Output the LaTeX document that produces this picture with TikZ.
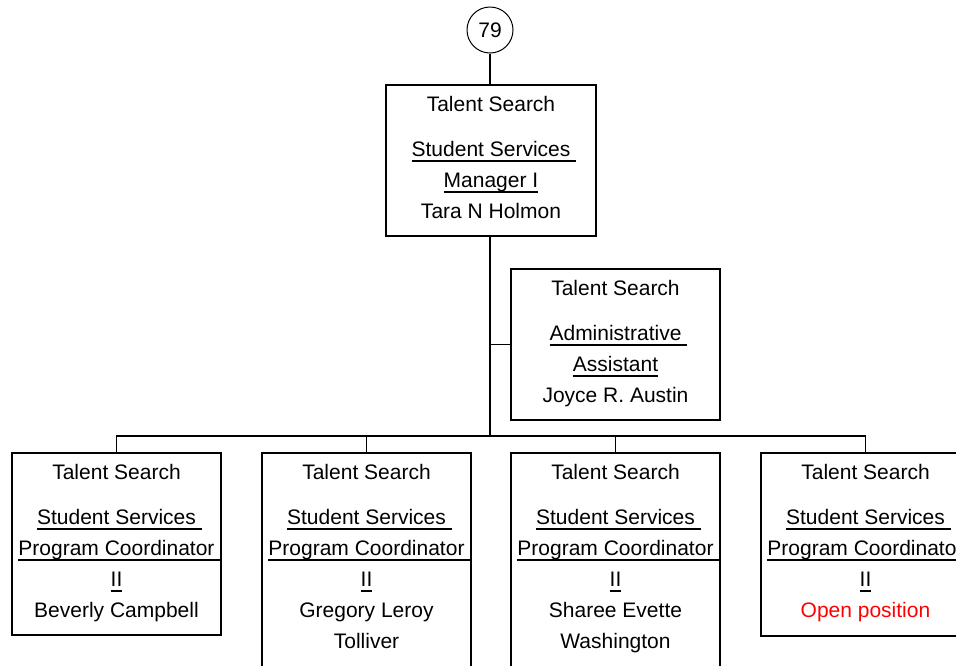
\documentclass[tikz,border=0pt]{standalone}
\usepackage{fontspec}
\setmainfont{Liberation Sans}
\newlength\ulw
\newcommand\ulx[1]{\settowidth\ulw{#1}\rlap{\rule[-5pt]{\ulw}{1.7pt}}#1}
\definecolor{openred}{RGB}{255,0,0}
\tikzset{
  box/.style={draw, line width=1.8pt, inner sep=0pt, minimum width=209pt},
  txt/.style={inner sep=0pt, align=center, anchor=north, font=\fontsize{21}{31}\selectfont},
  conn/.style={line width=1.8pt},
}
\begin{document}
\begin{tikzpicture}[x=1pt,y=-1pt]
\useasboundingbox (0,0) rectangle (956,665);
\clip (0,0) rectangle (956,665);
% circle
\node[draw, circle, line width=1pt, minimum size=46pt, inner sep=0pt, font=\fontsize{21}{25}\selectfont] (c) at (490,30) {79};
% boxes
\node[box, minimum width=210pt, minimum height=151pt] (top) at (491,160.5) {};
\node[box, minimum height=151pt] (adm) at (615.5,344.5) {};
\node[box, minimum height=182pt] (b1) at (116.5,544) {};
\node[box, minimum height=216pt] (b2) at (366.5,561) {};
\node[box, minimum height=216pt] (b3) at (615.5,561) {};
\node[box, minimum height=183pt] (b4) at (865.5,544.5) {};
% texts
\node[txt] (ttop) at ([yshift=-11pt]top.north) {\rule{0pt}{16pt}Talent Search\\[14.5pt]\ulx{Student Services\ }\\\ulx{Manager I}\\Tara N Holmon};
\node[txt] (tadm) at ([yshift=-11pt]adm.north) {\rule{0pt}{16pt}Talent Search\\[14.5pt]\ulx{Administrative\ }\\\ulx{Assistant}\\Joyce R. Austin};
\node[txt] (tb1) at ([yshift=-11pt]b1.north) {\rule{0pt}{16pt}Talent Search\\[14.5pt]\ulx{Student Services\ }\\\ulx{Program Coordinator\ }\\\ulx{II}\\Beverly Campbell};
\node[txt] (tb2) at ([yshift=-11pt]b2.north) {\rule{0pt}{16pt}Talent Search\\[14.5pt]\ulx{Student Services\ }\\\ulx{Program Coordinator\ }\\\ulx{II}\\Gregory Leroy\\Tolliver};
\node[txt] (tb3) at ([yshift=-11pt]b3.north) {\rule{0pt}{16pt}Talent Search\\[14.5pt]\ulx{Student Services\ }\\\ulx{Program Coordinator\ }\\\ulx{II}\\Sharee Evette\\Washington};
\node[txt] (tb4) at ([yshift=-11pt]b4.north) {\rule{0pt}{16pt}Talent Search\\[14.5pt]\ulx{Student Services\ }\\\ulx{Program Coordinator\ }\\\ulx{II}\\\textcolor{openred}{Open position}};
% connectors
\coordinate (bus) at (490,436);
\draw[conn] (c) -- (c |- top.north);
\draw[conn] (top.south -| c) -- (bus);
\draw[conn] (adm.west) -- (adm.west -| bus);
\draw[conn] (b1.north) |- (bus);
\draw[conn] (b2.north) |- (bus);
\draw[conn] (b3.north) |- (bus);
\draw[conn] (b4.north) |- (bus);
\end{tikzpicture}
\end{document}
